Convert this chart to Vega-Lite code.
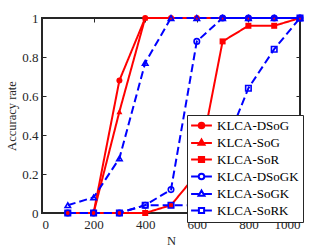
{
  "$schema": "https://vega.github.io/schema/vega-lite/v6.json",
  "width": 258,
  "height": 195,
  "autosize": {"type": "none"},
  "padding": {"left": 42, "top": 18, "right": 32, "bottom": 36},
  "config": {
    "view": {"stroke": "#262626", "strokeWidth": 2},
    "font": "Liberation Serif",
    "axis": {
      "grid": false, "domain": false, "tickColor": "#262626", "tickSize": -4, "tickWidth": 1,
      "labelFont": "Liberation Serif", "labelFontSize": 13, "labelColor": "#262626",
      "titleFont": "Liberation Serif", "titleFontSize": 12.5, "titleColor": "#262626", "titleFontWeight": "normal"
    },
    "legend": {
      "orient": "none", "legendX": 145, "legendY": 97, "padding": 4,
      "symbolSize": 64, "symbolStrokeWidth": 2, "symbolOffset": 4, "labelOffset": 9,
      "labelFont": "Liberation Serif", "labelFontSize": 13, "labelColor": "#000000",
      "rowPadding": 2, "strokeColor": "#262626", "fillColor": "#ffffff"
    }
  },
  "data": {"values": [
    {"series": "KLCA-DSoG", "N": 100, "value": 0}, {"series": "KLCA-DSoG", "N": 200, "value": 0}, {"series": "KLCA-DSoG", "N": 300, "value": 0.68}, {"series": "KLCA-DSoG", "N": 400, "value": 1}, {"series": "KLCA-DSoG", "N": 500, "value": 1}, {"series": "KLCA-DSoG", "N": 600, "value": 1}, {"series": "KLCA-DSoG", "N": 700, "value": 1}, {"series": "KLCA-DSoG", "N": 800, "value": 1}, {"series": "KLCA-DSoG", "N": 900, "value": 1}, {"series": "KLCA-DSoG", "N": 1000, "value": 1},
    {"series": "KLCA-SoG", "N": 100, "value": 0}, {"series": "KLCA-SoG", "N": 200, "value": 0}, {"series": "KLCA-SoG", "N": 300, "value": 0.52}, {"series": "KLCA-SoG", "N": 400, "value": 1}, {"series": "KLCA-SoG", "N": 500, "value": 1}, {"series": "KLCA-SoG", "N": 600, "value": 1}, {"series": "KLCA-SoG", "N": 700, "value": 1}, {"series": "KLCA-SoG", "N": 800, "value": 1}, {"series": "KLCA-SoG", "N": 900, "value": 1}, {"series": "KLCA-SoG", "N": 1000, "value": 1},
    {"series": "KLCA-SoR", "N": 100, "value": 0}, {"series": "KLCA-SoR", "N": 200, "value": 0}, {"series": "KLCA-SoR", "N": 300, "value": 0}, {"series": "KLCA-SoR", "N": 400, "value": 0}, {"series": "KLCA-SoR", "N": 500, "value": 0.04}, {"series": "KLCA-SoR", "N": 600, "value": 0.2}, {"series": "KLCA-SoR", "N": 700, "value": 0.88}, {"series": "KLCA-SoR", "N": 800, "value": 0.96}, {"series": "KLCA-SoR", "N": 900, "value": 0.96}, {"series": "KLCA-SoR", "N": 1000, "value": 1},
    {"series": "KLCA-DSoGK", "N": 100, "value": 0}, {"series": "KLCA-DSoGK", "N": 200, "value": 0}, {"series": "KLCA-DSoGK", "N": 300, "value": 0}, {"series": "KLCA-DSoGK", "N": 400, "value": 0.04}, {"series": "KLCA-DSoGK", "N": 500, "value": 0.12}, {"series": "KLCA-DSoGK", "N": 600, "value": 0.88}, {"series": "KLCA-DSoGK", "N": 700, "value": 1}, {"series": "KLCA-DSoGK", "N": 800, "value": 1}, {"series": "KLCA-DSoGK", "N": 900, "value": 1}, {"series": "KLCA-DSoGK", "N": 1000, "value": 1},
    {"series": "KLCA-SoGK", "N": 100, "value": 0.04}, {"series": "KLCA-SoGK", "N": 200, "value": 0.08}, {"series": "KLCA-SoGK", "N": 300, "value": 0.28}, {"series": "KLCA-SoGK", "N": 400, "value": 0.77}, {"series": "KLCA-SoGK", "N": 500, "value": 1}, {"series": "KLCA-SoGK", "N": 600, "value": 1}, {"series": "KLCA-SoGK", "N": 700, "value": 1}, {"series": "KLCA-SoGK", "N": 800, "value": 1}, {"series": "KLCA-SoGK", "N": 900, "value": 1}, {"series": "KLCA-SoGK", "N": 1000, "value": 1},
    {"series": "KLCA-SoRK", "N": 100, "value": 0}, {"series": "KLCA-SoRK", "N": 200, "value": 0}, {"series": "KLCA-SoRK", "N": 300, "value": 0}, {"series": "KLCA-SoRK", "N": 400, "value": 0.04}, {"series": "KLCA-SoRK", "N": 500, "value": 0.04}, {"series": "KLCA-SoRK", "N": 600, "value": 0.04}, {"series": "KLCA-SoRK", "N": 700, "value": 0.31}, {"series": "KLCA-SoRK", "N": 800, "value": 0.64}, {"series": "KLCA-SoRK", "N": 900, "value": 0.84}, {"series": "KLCA-SoRK", "N": 1000, "value": 1}
  ]},
  "layer": [
    {
      "mark": {"type": "line", "strokeWidth": 2},
      "encoding": {
        "x": {"field": "N", "type": "quantitative", "scale": {"domain": [0, 1000]}, "axis": {"orient": "bottom", "title": "N", "values": [0, 200, 400, 600, 800, 1000], "format": "d", "labelPadding": 9, "titlePadding": 3}},
        "y": {"field": "value", "type": "quantitative", "scale": {"domain": [0, 1]}, "axis": {"orient": "left", "title": "Accuracy rate", "values": [0, 0.2, 0.4, 0.6, 0.8, 1], "format": "~g", "labelPadding": 8, "titlePadding": 3}},
        "color": {"field": "series", "type": "nominal", "scale": {"domain": ["KLCA-DSoG", "KLCA-SoG", "KLCA-SoR", "KLCA-DSoGK", "KLCA-SoGK", "KLCA-SoRK"], "range": ["#ff0000", "#ff0000", "#ff0000", "#0000ff", "#0000ff", "#0000ff"]}, "legend": null},
        "strokeDash": {"field": "series", "type": "nominal", "scale": {"domain": ["KLCA-DSoG", "KLCA-SoG", "KLCA-SoR", "KLCA-DSoGK", "KLCA-SoGK", "KLCA-SoRK"], "range": [[1, 0], [1, 0], [1, 0], [8, 4], [8, 4], [8, 4]]}, "legend": null}
      }
    },
    {
      "transform": [{"filter": "indexof(['KLCA-DSoG','KLCA-SoG','KLCA-SoR'], datum.series) >= 0"}],
      "mark": {"type": "point", "filled": true, "color": "#ff0000", "size": 36, "opacity": 1},
      "encoding": {
        "x": {"field": "N", "type": "quantitative", "axis": {"orient": "top", "labels": false, "title": null, "values": [0, 200, 400, 600, 800, 1000]}},
        "y": {"field": "value", "type": "quantitative", "axis": {"orient": "right", "labels": false, "title": null, "values": [0, 0.2, 0.4, 0.6, 0.8, 1]}},
        "shape": {"field": "series", "type": "nominal", "scale": {"domain": ["KLCA-DSoG", "KLCA-SoG", "KLCA-SoR"], "range": ["circle", "triangle-up", "square"]}, "legend": null}
      }
    },
    {
      "transform": [{"filter": "indexof(['KLCA-DSoGK','KLCA-SoGK','KLCA-SoRK'], datum.series) >= 0"}],
      "mark": {"type": "point", "filled": false, "color": "#0000ff", "size": 30, "strokeWidth": 1.6, "opacity": 1},
      "encoding": {
        "x": {"field": "N", "type": "quantitative", "axis": null},
        "y": {"field": "value", "type": "quantitative", "axis": null},
        "shape": {"field": "series", "type": "nominal", "scale": {"domain": ["KLCA-DSoGK", "KLCA-SoGK", "KLCA-SoRK"], "range": ["circle", "triangle-up", "square"]}, "legend": null}
      }
    },
    {
      "transform": [{"filter": "datum.N < 0"}],
      "mark": {"type": "point", "opacity": 1},
      "encoding": {
        "x": {"field": "N", "type": "quantitative", "axis": null},
        "y": {"field": "value", "type": "quantitative", "axis": null},
        "shape": {"field": "series", "type": "nominal", "scale": {"domain": ["KLCA-DSoG", "KLCA-SoG", "KLCA-SoR", "KLCA-DSoGK", "KLCA-SoGK", "KLCA-SoRK"], "range": [
          "M-2.6,0H-0.7M0.7,0H2.6M0.7,0A0.7,0.7,0,1,1,-0.7,0A0.7,0.7,0,1,1,0.7,0Z",
          "M-2.6,0.1H-0.7M0.7,0.1H2.6M0,-0.75L0.75,0.55L-0.75,0.55Z",
          "M-2.6,0H-0.65M0.65,0H2.6M-0.65,-0.65H0.65V0.65H-0.65Z",
          "M-2.6,0H-0.7M0.7,0H2.6M0.7,0A0.7,0.7,0,1,1,-0.7,0A0.7,0.7,0,1,1,0.7,0Z",
          "M-2.6,0.1H-0.7M0.7,0.1H2.6M0,-0.75L0.75,0.55L-0.75,0.55Z",
          "M-2.6,0H-0.65M0.65,0H2.6M-0.65,-0.65H0.65V0.65H-0.65Z"
        ]}, "legend": {"title": null, "encode": {"legend": {"update": {"strokeWidth": {"value": 2}}}}}},
        "stroke": {"field": "series", "type": "nominal", "scale": {"domain": ["KLCA-DSoG", "KLCA-SoG", "KLCA-SoR", "KLCA-DSoGK", "KLCA-SoGK", "KLCA-SoRK"], "range": ["#ff0000", "#ff0000", "#ff0000", "#0000ff", "#0000ff", "#0000ff"]}, "legend": {"title": null}},
        "fill": {"field": "series", "type": "nominal", "scale": {"domain": ["KLCA-DSoG", "KLCA-SoG", "KLCA-SoR", "KLCA-DSoGK", "KLCA-SoGK", "KLCA-SoRK"], "range": ["#ff0000", "#ff0000", "#ff0000", "#ffffff", "#ffffff", "#ffffff"]}, "legend": {"title": null}}
      }
    }
  ],
  "resolve": {
    "scale": {"shape": "independent", "fill": "independent", "stroke": "independent"},
    "axis": {"x": "independent", "y": "independent"}
  }
}
